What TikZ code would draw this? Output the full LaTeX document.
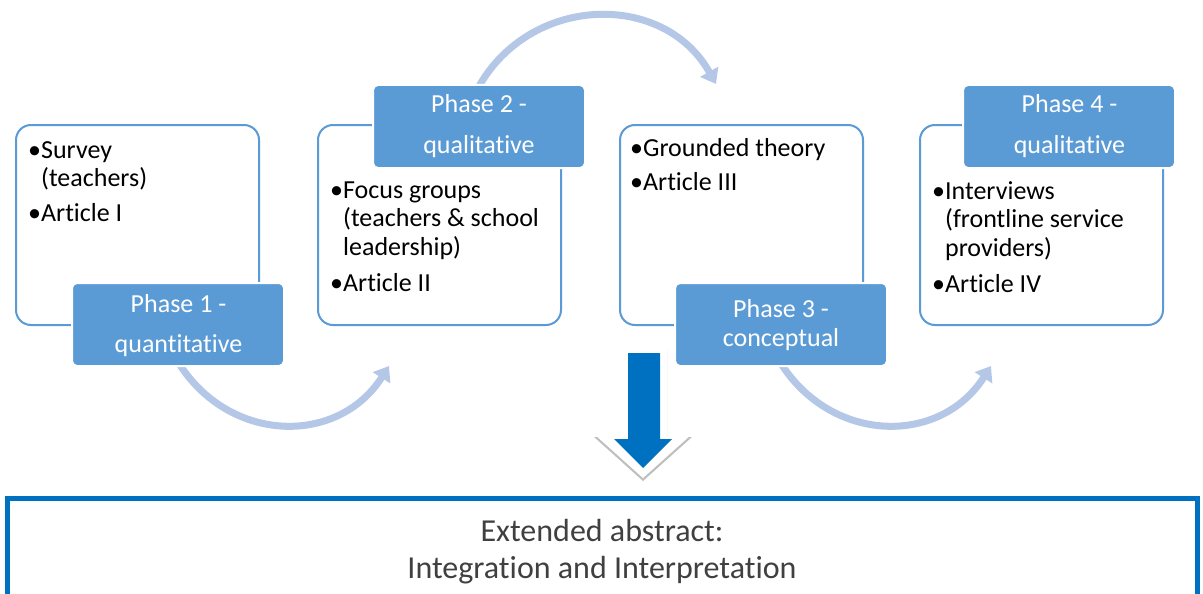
\documentclass[tikz,border=0pt]{standalone}
\usepackage{fontspec}
\setmainfont{Carlito}[Ligatures={NoCommon,NoContextual}]
\usetikzlibrary{arrows.meta,shadows}
\newcommand\myti{t\kern0pt i}
\definecolor{phaseblue}{RGB}{91,155,213}
\definecolor{arrowblue}{RGB}{180,199,231}
\definecolor{darkblue}{RGB}{0,112,192}
\definecolor{abstxt}{RGB}{64,64,64}
\tikzset{
  contentbox/.style={draw=phaseblue, line width=2pt, fill=white, rounded corners=15pt,
    anchor=north west, inner sep=0pt, outer sep=0pt, minimum width=243pt, minimum height=200pt},
  phasebox/.style={draw=white, line width=2pt, fill=phaseblue, rounded corners=5pt,
    anchor=north west, inner sep=0pt, outer sep=0pt, minimum width=212pt, minimum height=83pt},
  bullettext/.style={anchor=base west, inner sep=0pt, font=\fontsize{26}{28.5}\selectfont},
  phasetext/.style={anchor=base, inner sep=0pt, text=white},
  cyclearrow/.style={draw=arrowblue, line width=7pt, -{Triangle[width=20pt,length=14pt]}},
}
\begin{document}
\begin{tikzpicture}[x=1pt,y=-1pt]
\useasboundingbox (0,0) rectangle (1203,594);
\clip (0,0) rectangle (1203,594);
\fill[white] (0,0) rectangle (1203,594);

% cycle arrows (drawn first so the phase labels cover their starts)
\coordinate (a1s) at (178,362);
\coordinate (a1e) at (389,366);
\coordinate (a2s) at (478,88);
\coordinate (a2e) at (716,84);
\coordinate (a3s) at (780,362);
\coordinate (a3e) at (991,366);
\draw[cyclearrow] (a1s) .. controls (229,444) and (338,446) .. (a1e);
\draw[cyclearrow] (a2s) .. controls (530,-6) and (664,-9) .. (a2e);
\draw[cyclearrow] (a3s) .. controls (831,444) and (940,446) .. (a3e);

% content boxes
\node[contentbox] (b1) at (16,125) {};
\node[contentbox] (b2) at (318,125) {};
\node[contentbox] (b3) at (620,125) {};
\node[contentbox] (b4) at (920,125) {};

% phase labels
\node[phasebox] (p1) at (72,283) {};
\node[phasebox] (p2) at (373,85) {};
\node[phasebox] (p3) at (675,283) {};
\node[phasebox] (p4) at (963,85) {};

\node[phasetext, font=\fontsize{26}{40}\selectfont] (p1t) at (178.5,312)
  {\begin{tabular}[t]{@{}c@{}}Phase 1 -\\quan\myti{}ta\myti{}ve\end{tabular}};
\node[phasetext, font=\fontsize{26}{40}\selectfont] (p2t) at (479,113)
  {\begin{tabular}[t]{@{}c@{}}Phase 2 -\\qualita\myti{}ve\end{tabular}};
\node[phasetext, font=\fontsize{26}{29}\selectfont] (p3t) at (781,317)
  {\begin{tabular}[t]{@{}c@{}}Phase 3 -\\conceptual\end{tabular}};
\node[phasetext, font=\fontsize{26}{40}\selectfont] (p4t) at (1069.5,113)
  {\begin{tabular}[t]{@{}c@{}}Phase 4 -\\qualita\myti{}ve\end{tabular}};

% bullet texts
\node[bullettext] (t1) at (28,158)
  {\begin{tabular}[t]{@{}l@{}l@{}}•&Survey\\&(teachers)\\[6.5pt]•&Ar\myti{}cle I\end{tabular}};
\node[bullettext] (t2) at (330,198)
  {\begin{tabular}[t]{@{}l@{}l@{}}•&Focus groups\\&(teachers \& school\\&leadership)\\[7.5pt]•&Ar\myti{}cle II\end{tabular}};
\node[bullettext] (t3) at (630,157)
  {\begin{tabular}[t]{@{}l@{}l@{}}•&Grounded theory\\[5.5pt]•&Ar\myti{}cle III\end{tabular}};
\node[bullettext] (t4) at (932,199)
  {\begin{tabular}[t]{@{}l@{}l@{}}•&Interviews\\&(frontline service\\&providers)\\[7.5pt]•&Ar\myti{}cle IV\end{tabular}};

% big down arrow
\fill[white, drop shadow={opacity=0.5, shadow xshift=0pt, shadow yshift=-3pt}]
  (619,346) -- (667,346) -- (667,434) -- (692,434) -- (643,478) -- (594,434) -- (619,434) -- cycle;
\fill[darkblue] (628,353) -- (660,353) -- (660,439) -- (672,439) -- (643,468) -- (614,439) -- (628,439) -- cycle;

% extended abstract box
\node[draw=darkblue, line width=5pt, anchor=north west, inner sep=0pt, outer sep=0pt,
  minimum width=1190pt, minimum height=140pt] (abs) at (7,498) {};
\node[anchor=base, inner sep=0pt, text=abstxt, font=\fontsize{32}{37}\selectfont] (abst) at (602,541)
  {\begin{tabular}[t]{@{}c@{}}Extended abstract:\\Integra\myti{}on and Interpreta\myti{}on\end{tabular}};
\end{tikzpicture}
\end{document}
